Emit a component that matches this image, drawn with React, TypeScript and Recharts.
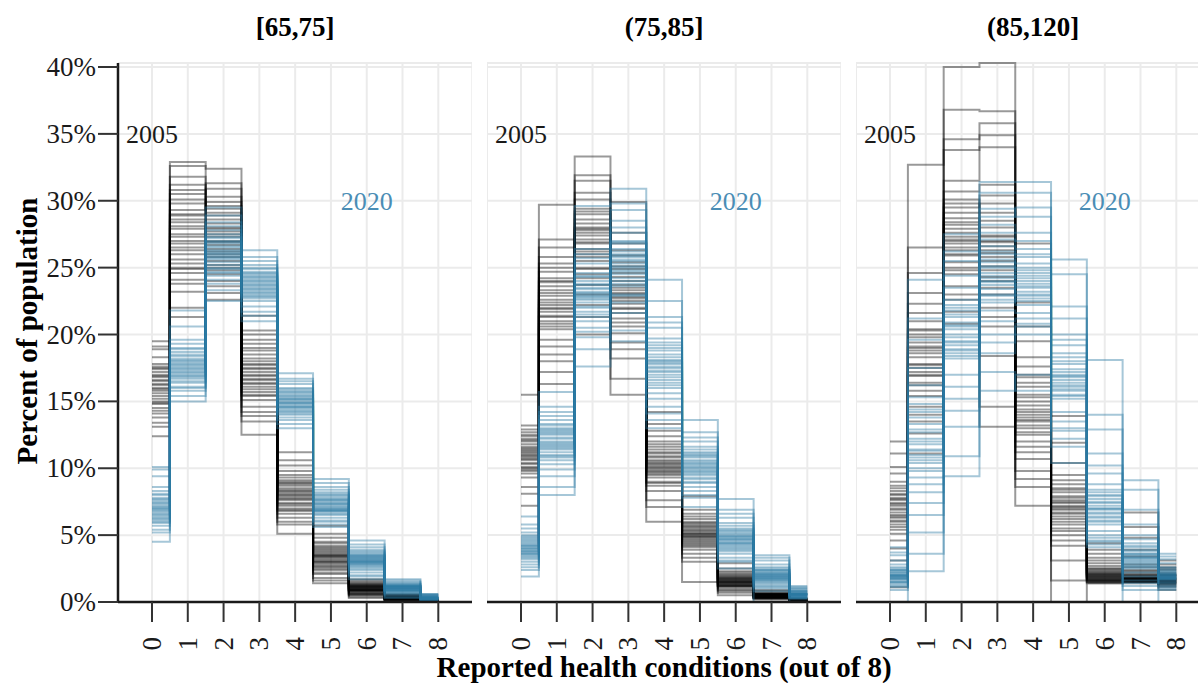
import { LineChart, Line, XAxis, YAxis, CartesianGrid, ReferenceDot } from 'recharts'

const FONT = "'Liberation Serif', 'DejaVu Serif', serif"
const BLACK = '#000000'
const BLUE = '#2a79a2'

const CONDITIONS = [0, 1, 2, 3, 4, 5, 6, 7, 8]
const PCT_TICKS = [0, 5, 10, 15, 20, 25, 30, 35, 40]
const AGE_GROUPS = ['[65,75]', '(75,85]', '(85,120]']

// each row = one count of conditions (0..8), each column = one bootstrap draw (% of population)
const young2005 = [
  [19.5, 16.2, 14.8, 17.5, 13.1, 15.9, 18.3, 16.8, 12.4, 15.2, 17.0, 14.1, 18.9, 16.5, 15.6, 13.8, 17.8, 16.0, 14.5, 19.1, 15.0, 17.2, 13.4, 16.6, 16.3, 15.4, 17.4, 14.9, 16.9, 15.8, 14.3, 17.6],
  [32.9, 27.5, 24.1, 29.8, 26.3, 22.0, 31.2, 28.4, 25.6, 30.5, 23.2, 27.0, 32.6, 25.0, 28.9, 21.3, 26.8, 29.3, 24.6, 31.8, 27.9, 23.8, 26.0, 30.1, 28.1, 26.5, 29.0, 24.9, 27.3, 30.8, 25.3, 28.6],
  [32.4, 28.6, 25.2, 30.9, 26.7, 23.1, 29.4, 27.3, 24.5, 31.3, 26.0, 28.0, 22.6, 25.8, 29.9, 27.7, 24.0, 30.3, 26.4, 28.9, 23.6, 27.0, 25.5, 29.1, 27.9, 26.2, 28.3, 25.0, 29.6, 26.9, 24.8, 27.5],
  [21.4, 17.2, 15.1, 18.8, 16.4, 13.5, 19.6, 17.8, 14.6, 16.9, 20.3, 15.7, 18.2, 12.5, 16.1, 19.0, 14.2, 17.5, 15.4, 18.5, 16.7, 13.9, 17.0, 20.0, 17.4, 16.3, 18.0, 15.5, 17.7, 16.6, 19.3, 15.9],
  [11.2, 8.4, 6.9, 9.5, 7.6, 5.1, 10.2, 8.0, 6.3, 9.0, 7.2, 8.7, 5.8, 9.8, 7.9, 6.6, 8.2, 10.6, 7.4, 8.9, 6.0, 9.3, 7.0, 8.5, 8.1, 7.7, 8.8, 7.3, 8.3, 9.1, 6.8, 7.8],
  [5.7, 3.5, 2.4, 4.2, 3.0, 1.4, 4.8, 3.3, 2.1, 3.9, 2.7, 4.5, 1.8, 3.6, 2.9, 5.1, 3.1, 2.2, 4.0, 3.8, 2.6, 3.4, 1.6, 4.4, 3.2, 3.7, 2.8, 3.4, 4.1, 2.5, 3.0, 3.5],
  [1.7, 1.0, 0.6, 1.3, 0.8, 0.3, 1.5, 1.1, 0.5, 1.2, 0.9, 0.7, 1.4, 0.4, 1.0, 1.6, 0.8, 1.2, 0.6, 1.1, 0.9, 1.3, 0.5, 1.0, 0.9, 1.1, 0.8, 1.0, 1.2, 0.7, 1.3, 0.9],
  [0.3, 0.2, 0.5, 0.1, 0.4, 0.2, 0.3, 0.6, 0.2, 0.4, 0.1, 0.3, 0.5, 0.2, 0.3, 0.4, 0.1, 0.3, 0.2, 0.5, 0.3, 0.2, 0.4, 0.3, 0.3, 0.2, 0.4, 0.3, 0.2, 0.3, 0.4, 0.2],
  [0.1, 0.0, 0.1, 0.2, 0.1, 0.0, 0.1, 0.1, 0.2, 0.0, 0.1, 0.1, 0.0, 0.2, 0.1, 0.1, 0.0, 0.1, 0.2, 0.1, 0.0, 0.1, 0.1, 0.1, 0.1, 0.1, 0.0, 0.1, 0.1, 0.2, 0.1, 0.0],
]
const young2020 = [
  [10.1, 7.2, 5.9, 8.3, 6.6, 4.5, 7.8, 6.2, 9.4, 5.4, 7.0, 6.8, 8.0, 5.7, 7.5, 6.4, 9.9, 6.0, 7.3, 5.2, 8.6, 6.9, 7.6, 6.1, 7.1, 6.5, 7.7, 6.3, 7.4, 6.7, 8.1, 7.0],
  [21.8, 18.1, 16.4, 19.3, 17.2, 15.0, 18.7, 16.9, 20.6, 17.6, 15.8, 18.4, 16.1, 19.6, 17.0, 18.0, 15.4, 17.9, 16.7, 19.0, 17.4, 16.0, 18.9, 17.7, 17.5, 18.2, 16.8, 17.8, 16.5, 18.5, 17.1, 17.3],
  [29.5, 26.3, 24.6, 27.8, 25.4, 22.5, 28.4, 26.0, 23.8, 27.2, 25.0, 26.8, 24.1, 28.9, 25.7, 27.5, 23.3, 26.5, 24.9, 28.1, 25.9, 27.0, 24.4, 26.2, 26.1, 25.6, 26.9, 25.2, 27.3, 26.6, 24.7, 25.8],
  [26.3, 24.0, 22.5, 25.2, 23.4, 21.0, 25.8, 23.8, 22.1, 24.7, 23.0, 24.4, 21.7, 25.5, 23.2, 24.2, 22.8, 25.0, 23.6, 21.4, 24.9, 22.9, 23.9, 24.5, 23.7, 24.1, 23.3, 24.6, 22.7, 23.5, 24.3, 23.1],
  [17.1, 15.2, 14.0, 16.3, 14.7, 13.0, 15.9, 14.4, 16.7, 13.6, 15.0, 14.9, 15.6, 13.3, 14.6, 16.0, 14.2, 15.4, 13.8, 16.5, 15.1, 14.5, 15.8, 14.1, 14.8, 15.3, 14.3, 15.5, 14.9, 15.7, 14.6, 15.2],
  [9.2, 7.4, 6.3, 8.2, 6.9, 5.6, 8.0, 7.1, 6.0, 7.8, 6.6, 8.6, 7.3, 6.1, 7.6, 6.8, 8.9, 7.0, 5.8, 7.9, 6.5, 7.5, 8.4, 6.7, 7.2, 7.7, 6.9, 7.3, 8.1, 7.0, 7.6, 6.8],
  [4.6, 3.2, 2.5, 3.8, 2.9, 1.7, 3.5, 3.0, 2.2, 4.1, 2.7, 3.4, 2.0, 3.6, 3.1, 2.4, 4.3, 2.8, 3.3, 1.9, 3.7, 2.6, 3.0, 3.9, 3.1, 2.9, 3.3, 3.0, 3.5, 2.8, 3.2, 3.4],
  [1.7, 1.0, 0.7, 1.3, 0.9, 0.3, 1.5, 1.1, 0.6, 1.2, 0.8, 1.4, 0.5, 1.0, 1.2, 0.8, 1.6, 0.9, 1.1, 0.4, 1.3, 0.7, 1.0, 1.2, 1.0, 1.1, 0.9, 1.2, 1.0, 0.8, 1.1, 1.3],
  [0.6, 0.3, 0.2, 0.4, 0.3, 0.1, 0.5, 0.3, 0.2, 0.4, 0.2, 0.5, 0.1, 0.3, 0.4, 0.2, 0.6, 0.3, 0.2, 0.4, 0.3, 0.1, 0.5, 0.3, 0.3, 0.4, 0.3, 0.2, 0.3, 0.4, 0.3, 0.2],
]
const mid2005 = [
  [15.5, 11.2, 9.6, 12.5, 10.4, 7.2, 12.9, 10.9, 8.1, 11.8, 9.9, 13.2, 10.1, 11.5, 9.3, 12.2, 10.7, 8.6, 11.0, 12.7, 9.8, 11.4, 10.3, 12.0, 11.1, 10.6, 12.1, 10.0, 11.6, 10.8, 12.4, 11.3],
  [29.7, 22.4, 19.6, 25.3, 21.0, 17.2, 26.5, 23.1, 18.5, 24.2, 20.4, 22.9, 16.3, 25.8, 21.7, 23.6, 19.1, 24.7, 20.8, 27.1, 22.0, 18.0, 23.9, 21.3, 22.6, 21.4, 23.3, 20.6, 24.0, 22.2, 25.0, 21.9],
  [33.3, 28.0, 24.5, 30.6, 26.2, 21.3, 31.9, 27.1, 23.0, 29.4, 25.5, 27.8, 22.2, 30.1, 25.0, 28.6, 23.7, 26.8, 20.0, 31.5, 24.9, 29.0, 26.0, 27.4, 27.6, 26.4, 28.3, 25.8, 29.2, 26.9, 24.2, 27.9],
  [29.9, 24.0, 21.2, 26.3, 22.8, 18.9, 25.4, 23.3, 20.1, 27.6, 22.0, 24.6, 19.4, 23.7, 21.6, 25.9, 18.2, 22.5, 24.9, 16.7, 23.0, 20.6, 26.8, 15.5, 23.5, 22.3, 24.3, 21.9, 23.1, 25.1, 20.9, 22.7],
  [14.2, 10.6, 8.9, 12.0, 9.7, 6.0, 12.8, 10.2, 7.6, 11.4, 9.3, 10.9, 8.3, 11.8, 9.9, 13.3, 8.7, 10.4, 11.1, 7.1, 10.0, 12.4, 9.5, 10.8, 10.5, 9.6, 11.2, 10.1, 9.0, 11.6, 10.3, 9.8],
  [7.9, 5.3, 4.1, 6.4, 4.7, 3.0, 6.9, 5.0, 3.6, 5.9, 4.4, 5.6, 3.3, 6.2, 4.9, 5.4, 1.5, 4.5, 5.8, 3.9, 5.1, 6.6, 4.2, 4.8, 5.2, 4.6, 5.5, 4.3, 5.7, 4.9, 6.0, 5.1],
  [2.9, 1.6, 1.1, 2.2, 1.3, 0.5, 2.5, 1.5, 0.9, 1.9, 1.2, 1.7, 0.7, 2.0, 1.4, 1.8, 1.0, 2.3, 1.3, 0.8, 1.6, 2.1, 1.2, 1.5, 1.5, 1.8, 1.4, 1.6, 1.2, 1.9, 1.3, 1.7],
  [0.9, 0.5, 0.3, 0.6, 0.4, 0.2, 0.7, 0.5, 0.3, 0.6, 0.4, 0.5, 0.2, 0.8, 0.4, 0.5, 0.3, 0.6, 0.4, 0.7, 0.5, 0.3, 0.6, 0.4, 0.5, 0.4, 0.5, 0.6, 0.4, 0.5, 0.3, 0.6],
  [0.2, 0.1, 0.1, 0.3, 0.1, 0.0, 0.2, 0.1, 0.1, 0.2, 0.0, 0.1, 0.2, 0.1, 0.1, 0.3, 0.1, 0.0, 0.2, 0.1, 0.1, 0.2, 0.1, 0.1, 0.1, 0.2, 0.1, 0.1, 0.2, 0.1, 0.1, 0.2],
]
const mid2020 = [
  [6.4, 4.1, 3.2, 5.0, 3.7, 1.9, 5.5, 4.4, 2.8, 4.8, 3.5, 4.0, 2.4, 5.2, 3.9, 4.6, 3.0, 4.2, 3.4, 5.8, 3.8, 2.6, 4.5, 3.6, 4.3, 3.8, 4.7, 3.3, 4.0, 4.9, 3.6, 4.2],
  [15.7, 12.3, 10.8, 13.6, 11.5, 8.0, 14.2, 12.0, 9.9, 13.0, 11.2, 12.7, 10.3, 14.6, 11.8, 12.5, 9.4, 13.3, 11.0, 8.6, 12.9, 10.6, 13.9, 11.6, 12.2, 11.4, 12.8, 11.9, 13.2, 11.7, 12.6, 10.9],
  [29.6, 23.4, 21.0, 25.3, 22.1, 17.6, 26.0, 23.0, 19.8, 24.6, 21.7, 22.7, 18.9, 25.7, 22.4, 24.0, 20.5, 23.7, 21.3, 26.4, 22.9, 20.2, 24.3, 23.2, 23.1, 22.6, 23.8, 22.0, 24.4, 21.5, 23.5, 22.8],
  [30.9, 26.4, 23.6, 28.5, 24.8, 20.3, 29.3, 25.9, 22.4, 27.6, 24.2, 26.0, 21.6, 28.0, 25.1, 27.0, 23.0, 25.5, 19.5, 29.8, 24.5, 26.8, 22.9, 25.8, 25.3, 24.7, 26.2, 24.0, 25.6, 26.9, 23.8, 25.0],
  [24.1, 18.3, 15.6, 20.5, 17.0, 13.0, 22.5, 18.0, 14.6, 19.7, 16.4, 18.8, 14.1, 21.3, 17.5, 19.2, 15.2, 17.8, 16.0, 20.9, 16.8, 13.6, 19.0, 17.3, 17.9, 17.2, 18.5, 16.6, 19.4, 17.6, 18.1, 16.2],
  [13.6, 10.4, 8.9, 11.6, 9.6, 7.1, 12.3, 10.1, 8.3, 11.2, 9.3, 10.8, 7.8, 12.0, 9.9, 10.6, 8.6, 11.0, 9.0, 12.7, 10.2, 8.0, 11.4, 9.7, 10.3, 9.8, 10.9, 9.5, 10.5, 11.1, 10.0, 9.2],
  [7.7, 4.9, 3.8, 5.9, 4.3, 2.5, 6.9, 4.7, 3.3, 5.5, 4.0, 5.2, 3.0, 6.3, 4.5, 5.0, 3.6, 5.7, 4.1, 6.6, 4.8, 3.1, 5.3, 4.4, 4.6, 4.9, 4.2, 5.1, 4.4, 5.4, 4.7, 3.9],
  [3.5, 2.0, 1.3, 2.6, 1.6, 0.0, 3.1, 1.9, 1.0, 2.4, 1.5, 2.2, 0.8, 2.8, 1.7, 2.1, 1.2, 2.5, 1.4, 3.3, 1.8, 1.1, 2.3, 1.9, 1.9, 2.0, 1.6, 2.2, 1.8, 2.4, 1.7, 2.1],
  [1.2, 0.6, 0.4, 0.8, 0.5, 0.2, 1.0, 0.6, 0.3, 0.7, 0.5, 0.9, 0.3, 1.1, 0.5, 0.6, 0.4, 0.8, 0.4, 1.0, 0.6, 0.3, 0.7, 0.5, 0.6, 0.5, 0.7, 0.6, 0.5, 0.8, 0.4, 0.6],
]
const old2005 = [
  [12.0, 7.4, 5.6, 9.0, 6.3, 3.1, 11.1, 7.0, 4.6, 8.3, 6.0, 7.8, 1.1, 9.6, 6.7, 8.0, 5.1, 7.2, 6.5, 10.1, 5.4, 8.7, 4.0, 7.6, 7.3, 6.1, 8.1, 6.9, 5.8, 7.7, 6.4, 8.5],
  [32.7, 19.0, 15.4, 22.3, 17.2, 11.1, 26.5, 18.3, 13.5, 21.0, 16.4, 19.8, 12.6, 24.6, 17.8, 20.4, 14.6, 23.1, 16.9, 21.6, 18.8, 14.0, 20.0, 17.5, 18.6, 17.0, 19.4, 16.2, 20.3, 17.7, 15.8, 19.1],
  [40.0, 28.2, 24.5, 30.7, 26.0, 20.8, 36.8, 27.3, 22.6, 33.8, 25.4, 28.7, 21.7, 34.6, 26.8, 29.5, 23.6, 27.9, 25.0, 31.5, 26.5, 23.0, 29.1, 27.0, 27.6, 25.9, 28.4, 26.3, 30.1, 24.8, 27.1, 29.8],
  [40.3, 27.4, 23.0, 31.2, 25.1, 13.1, 36.7, 26.3, 20.6, 34.0, 24.3, 28.5, 18.4, 35.8, 25.8, 29.8, 22.0, 27.0, 14.6, 34.9, 24.8, 21.3, 30.4, 26.6, 26.9, 25.5, 28.0, 24.0, 27.3, 29.1, 23.5, 26.1],
  [26.8, 15.0, 11.6, 19.5, 13.2, 7.2, 22.4, 14.4, 9.8, 17.6, 12.5, 16.1, 8.6, 20.6, 13.8, 16.8, 10.7, 15.5, 12.0, 18.3, 14.0, 9.2, 17.0, 13.5, 14.2, 13.0, 15.3, 12.7, 16.4, 14.7, 11.2, 13.6],
  [13.9, 7.4, 5.5, 9.5, 6.4, 0.0, 11.9, 7.0, 4.2, 8.8, 6.0, 7.8, 3.1, 10.4, 6.7, 8.2, 5.0, 7.6, 1.6, 9.1, 6.2, 4.6, 8.5, 7.2, 7.1, 6.6, 7.9, 5.8, 8.4, 6.9, 5.3, 7.5],
  [4.4, 2.3, 1.6, 3.3, 1.9, 1.4, 3.9, 2.1, 1.5, 2.9, 1.7, 2.5, 1.4, 3.6, 2.0, 2.7, 1.6, 2.2, 1.5, 3.1, 1.8, 1.6, 2.4, 1.9, 2.0, 1.8, 2.2, 1.7, 2.5, 1.6, 2.1, 1.9],
  [6.7, 2.1, 1.6, 3.4, 1.8, 1.4, 4.8, 1.9, 1.5, 2.8, 1.6, 2.4, 1.5, 5.6, 1.7, 2.6, 1.6, 2.0, 1.5, 3.9, 1.8, 1.5, 2.3, 1.7, 1.8, 1.7, 2.0, 1.6, 2.2, 1.9, 1.7, 1.8],
  [3.1, 1.8, 1.4, 2.4, 1.6, 0.9, 2.8, 1.7, 1.3, 2.2, 1.5, 2.0, 1.1, 2.6, 1.6, 1.9, 1.4, 2.1, 1.2, 2.5, 1.7, 1.3, 2.0, 1.5, 1.6, 1.8, 1.5, 1.9, 1.7, 1.4, 2.0, 1.6],
]
const old2020 = [
  [4.1, 2.0, 1.4, 2.8, 1.7, 0.0, 3.5, 1.9, 1.1, 2.5, 1.6, 2.2, 0.9, 3.1, 1.8, 2.4, 1.3, 2.1, 1.5, 3.7, 1.9, 1.2, 2.6, 2.0, 1.9, 2.2, 1.7, 2.4, 1.5, 2.0, 1.8, 2.3],
  [24.1, 11.8, 8.2, 15.3, 10.0, 2.3, 19.6, 12.7, 6.5, 14.2, 9.3, 13.3, 5.2, 17.5, 10.8, 14.8, 7.4, 12.2, 3.6, 21.2, 11.3, 8.8, 16.2, 10.4, 11.4, 12.9, 10.6, 13.8, 9.8, 12.0, 11.0, 14.4],
  [27.5, 20.6, 17.0, 23.5, 18.9, 9.4, 25.5, 20.0, 15.2, 22.6, 18.2, 21.3, 13.1, 24.4, 19.5, 21.8, 16.1, 20.9, 10.9, 26.2, 19.2, 14.3, 22.2, 18.6, 19.8, 20.4, 18.8, 21.5, 19.4, 22.0, 18.4, 20.7],
  [31.4, 25.0, 21.8, 28.2, 23.4, 15.8, 30.6, 24.4, 20.0, 27.1, 22.6, 26.0, 18.6, 29.4, 23.9, 26.6, 21.0, 25.4, 17.2, 28.8, 24.0, 19.4, 27.6, 22.9, 24.6, 23.7, 25.6, 23.0, 26.2, 24.2, 25.1, 22.4],
  [31.4, 24.6, 21.6, 27.6, 23.0, 17.0, 30.6, 24.0, 20.6, 26.4, 22.2, 25.3, 20.0, 28.8, 23.5, 26.0, 21.2, 24.8, 15.8, 29.5, 22.7, 20.8, 27.0, 23.8, 24.2, 23.2, 25.0, 22.5, 25.8, 24.4, 23.6, 22.9],
  [25.6, 17.4, 14.2, 20.0, 15.8, 10.4, 22.1, 16.8, 12.8, 19.2, 15.2, 18.0, 11.6, 21.2, 16.4, 18.6, 13.5, 17.0, 12.2, 24.5, 15.5, 13.0, 19.6, 16.1, 16.6, 17.2, 15.9, 17.8, 16.2, 18.3, 15.4, 16.9],
  [18.1, 7.4, 5.3, 9.6, 6.3, 4.1, 14.0, 7.0, 4.6, 8.8, 5.8, 8.0, 4.3, 12.9, 6.6, 8.4, 5.0, 7.7, 4.5, 11.1, 6.1, 4.8, 10.2, 6.9, 7.2, 6.7, 7.9, 6.4, 8.2, 7.0, 6.0, 7.5],
  [9.1, 3.6, 2.2, 5.0, 2.8, 0.0, 8.4, 3.3, 1.6, 4.4, 2.5, 3.9, 1.2, 6.9, 3.0, 4.1, 1.9, 3.5, 0.9, 5.8, 2.7, 1.4, 4.7, 3.2, 3.4, 3.1, 3.8, 2.9, 4.2, 3.3, 2.6, 3.6],
  [3.6, 2.0, 1.4, 2.6, 1.7, 0.9, 3.2, 1.9, 1.2, 2.4, 1.6, 2.2, 1.0, 2.9, 1.8, 2.3, 1.3, 2.1, 1.1, 3.4, 1.7, 1.5, 2.5, 1.9, 1.9, 2.1, 1.8, 2.0, 1.7, 2.2, 1.9, 1.8],
]

const PANELS = [
  { title: AGE_GROUPS[0], y05: young2005, y20: young2020 },
  { title: AGE_GROUPS[1], y05: mid2005, y20: mid2020 },
  { title: AGE_GROUPS[2], y05: old2005, y20: old2020 },
]

// layout
const W = 1198
const H = 683
const PANEL_W = 354.3
const PANEL_TOP = 63
const X_AXIS_H = 81
const Y_AXIS_W = 118
const PANEL_LEFTS = [118, 487, 856]

function XTick(props: any) {
  const { x, y, payload } = props
  return (
    <text
      x={x}
      y={y}
      transform={`rotate(-90, ${x}, ${y})`}
      textAnchor="end"
      dominantBaseline="central"
      fontSize={27}
      fontFamily={FONT}
      style={{ fontFamily: FONT }}
      fill="#1a1a1a"
    >
      {payload.value}
    </text>
  )
}

function YTick(props: any) {
  const { x, y, payload } = props
  return (
    <text
      x={x}
      y={y}
      textAnchor="end"
      dominantBaseline="central"
      fontSize={27}
      fontFamily={FONT}
      style={{ fontFamily: FONT }}
      fill="#1a1a1a"
    >
      {`${payload.value}%`}
    </text>
  )
}

function Panel({ y05, y20, idx }: { y05: number[][]; y20: number[][]; idx: number }) {
  const first = idx === 0
  const data = CONDITIONS.map((c, i) => {
    const row: Record<string, number> = { x: c }
    y05[i].forEach((v, k) => { row[`a${k}`] = v })
    y20[i].forEach((v, k) => { row[`b${k}`] = v })
    return row
  })
  const width = first ? Y_AXIS_W + PANEL_W : PANEL_W

  return (
    <div style={{ position: 'absolute', top: 0, left: first ? 0 : PANEL_LEFTS[idx] }}>
      <LineChart width={width} height={H} data={data} margin={{ top: PANEL_TOP, right: 0, bottom: 0, left: 0 }}>
        <CartesianGrid stroke="#ebebeb" strokeWidth={2} />
        <XAxis
          dataKey="x"
          type="number"
          domain={[-0.95, 8.95]}
          ticks={CONDITIONS}
          interval={0}
          height={X_AXIS_H}
          tickSize={20}
          tickMargin={15}
          tick={<XTick />}
          axisLine={{ stroke: '#1a1a1a', strokeWidth: 2.5 }}
          tickLine={{ stroke: '#333333', strokeWidth: 2 }}
        />
        <YAxis
          type="number"
          domain={[0, 40.3]}
          ticks={PCT_TICKS}
          interval={0}
          hide={!first}
          width={Y_AXIS_W}
          tickSize={20}
          tickMargin={2}
          tick={<YTick />}
          axisLine={{ stroke: '#1a1a1a', strokeWidth: 2.5 }}
          tickLine={{ stroke: '#333333', strokeWidth: 2 }}
        />
        {y05[0].map((_, k) => (
          <Line
            key={`a${k}`}
            dataKey={`a${k}`}
            type="step"
            stroke={BLACK}
            strokeOpacity={0.4}
            strokeWidth={2}
            dot={false}
            activeDot={false}
            isAnimationActive={false}
          />
        ))}
        {y20[0].map((_, k) => (
          <Line
            key={`b${k}`}
            dataKey={`b${k}`}
            type="step"
            stroke={BLUE}
            strokeOpacity={0.42}
            strokeWidth={2}
            dot={false}
            activeDot={false}
            isAnimationActive={false}
          />
        ))}
        <ReferenceDot
          x={0}
          y={35}
          r={0}
          fill="none"
          stroke="none"
          ifOverflow="visible"
          label={{ value: '2005', position: 'center', fontSize: 26, fontFamily: FONT, style: { fontFamily: FONT }, fill: '#1a1a1a' }}
        />
        <ReferenceDot
          x={6}
          y={30}
          r={0}
          fill="none"
          stroke="none"
          ifOverflow="visible"
          label={{ value: '2020', position: 'center', fontSize: 26, fontFamily: FONT, style: { fontFamily: FONT }, fill: '#4a8db5' }}
        />
      </LineChart>
    </div>
  )
}

export default function App() {
  return (
    <div
      style={{
        position: 'absolute',
        left: 0,
        top: 0,
        width: W,
        height: H,
        overflow: 'hidden',
        background: '#ffffff',
        fontFamily: FONT,
      }}
    >
      {PANELS.map((p, i) => (
        <Panel key={p.title} y05={p.y05} y20={p.y20} idx={i} />
      ))}
      <svg width={W} height={H} style={{ position: 'absolute', left: 0, top: 0, pointerEvents: 'none', fontFamily: FONT }}>
        {PANELS.map((p, i) => (
          <text
            key={p.title}
            x={PANEL_LEFTS[i] + PANEL_W / 2}
            y={27}
            textAnchor="middle"
            dominantBaseline="central"
            fontSize={27}
            fontWeight="bold"
            fill="#000"
          >
            {p.title}
          </text>
        ))}
        <text
          x={(PANEL_LEFTS[0] + PANEL_LEFTS[2] + PANEL_W) / 2}
          y={677}
          textAnchor="middle"
          fontSize={29}
          fontWeight="bold"
          fill="#000"
        >
          Reported health conditions (out of 8)
        </text>
        <text
          x={37}
          y={331}
          transform="rotate(-90, 37, 331)"
          textAnchor="middle"
          fontSize={29}
          fontWeight="bold"
          fill="#000"
        >
          Percent of population
        </text>
      </svg>
    </div>
  )
}
